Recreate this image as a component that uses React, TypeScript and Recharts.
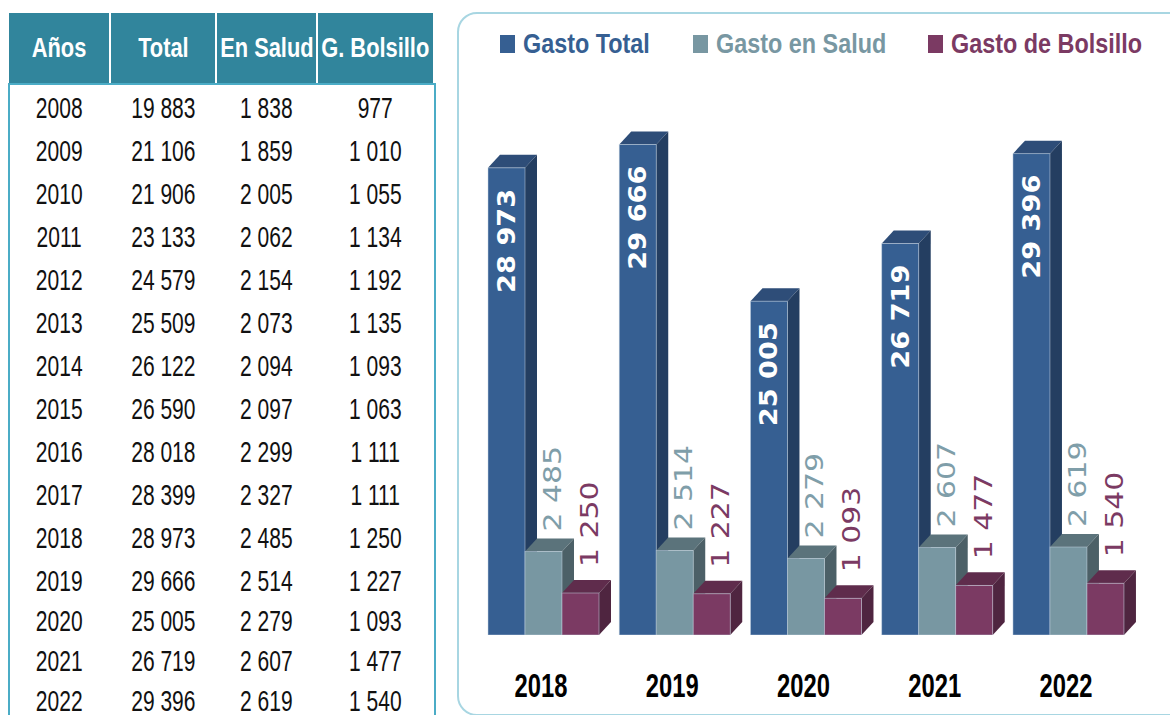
import React from "react";
import { BarChart, Bar, XAxis, YAxis, LabelList } from "recharts";

// Gasto per cápita (table 2008-2022, chart 2018-2022)
const YEARS = [2008, 2009, 2010, 2011, 2012, 2013, 2014, 2015, 2016, 2017, 2018, 2019, 2020, 2021, 2022];
const TOTAL = [19883, 21106, 21906, 23133, 24579, 25509, 26122, 26590, 28018, 28399, 28973, 29666, 25005, 26719, 29396];
const SALUD = [1838, 1859, 2005, 2062, 2154, 2073, 2094, 2097, 2299, 2327, 2485, 2514, 2279, 2607, 2619];
const BOLSILLO = [977, 1010, 1055, 1134, 1192, 1135, 1093, 1063, 1111, 1111, 1250, 1227, 1093, 1477, 1540];
const CHART_YEARS = [2018, 2019, 2020, 2021, 2022];

const HEADERS = ["Años", "Total", "En Salud", "G. Bolsillo"];
const SERIES_NAMES = ["Gasto Total", "Gasto en Salud", "Gasto de Bolsillo"];

// the total bars sit on a cut axis, same px per unit as the other two
const TOTAL_DOMAIN = [15070, 30100];
const PARTS_DOMAIN = [0, 15030];

const COLORS = {
  total: ["#365f92", "#2e4d78", "#243e61"],
  salud: ["#7897a2", "#5b737b", "#4c6067"],
  bolsillo: ["#7b3a63", "#5f2c4c", "#4f2540"],
};
const LABEL_COLORS = { total: "#ffffff", salud: "#7f9ea9", bolsillo: "#7b3a63" };

const DX = 12;
const DY = 13;

const fmt = (v: number) => String(v).replace(/\B(?=(\d{3})+(?!\d))/g, " ");

const chartData = CHART_YEARS.map((yr) => {
  const i = YEARS.indexOf(yr);
  return { year: String(yr), total: TOTAL[i], salud: SALUD[i], bolsillo: BOLSILLO[i] };
});

const COLS = [
  { left: 9, width: 100 },
  { left: 111, width: 104 },
  { left: 217, width: 99 },
  { left: 318, width: 115 },
];
const rowCenter = (i: number) => 108 + 43 * Math.min(i, 11) + 40 * Math.max(0, i - 11);

function Bar3D(props: any) {
  const { x, y, width, height, colors } = props;
  if (!height || height <= 0) return null;
  const [front, top, side] = colors;
  return (
    <g>
      <polygon
        points={`${x},${y} ${x + DX},${y - DY} ${x + width + DX},${y - DY} ${x + width},${y}`}
        fill={top}
      />
      <polygon
        points={`${x + width},${y} ${x + width + DX},${y - DY} ${x + width + DX},${y + height - DY} ${x + width},${y + height}`}
        fill={side}
      />
      <rect x={x} y={y} width={width} height={height} fill={front} stroke="#c8d6e4" strokeWidth={0.8} strokeOpacity={0.6} />
    </g>
  );
}

const makeLabel = (kind: "total" | "salud" | "bolsillo") => (p: any) => {
  const { x, y, width, value } = p;
  const cx = x + width / 2;
  if (kind === "total") {
    return (
      <text
        transform={`translate(${cx},${y + 21}) rotate(-90) scale(1.11,1)`}
        textAnchor="end"
        dominantBaseline="central"
        fill={LABEL_COLORS.total}
        fontFamily="DejaVu Sans"
        fontWeight="bold"
        fontSize={24.5}
      >
        {fmt(Number(value))}
      </text>
    );
  }
  const gap = kind === "salud" ? 20 : 26;
  return (
    <text
      transform={`translate(${cx + 9},${y - gap}) rotate(-90) scale(1.22,1)`}
      textAnchor="start"
      dominantBaseline="central"
      fill={LABEL_COLORS[kind]}
      fontFamily="DejaVu Sans"
      fontSize={24.5}
    >
      {fmt(Number(value))}
    </text>
  );
};

function YearTick({ x, y, payload }: any) {
  return (
    <text
      transform={`translate(${x - 3},${y + 50}) scale(0.71,1)`}
      textAnchor="middle"
      dominantBaseline="central"
      fill="#000"
      fontFamily="Liberation Sans"
      fontWeight="bold"
      fontSize={33.5}
    >
      {payload.value}
    </text>
  );
}

const LEGEND_LEFT = [500, 693, 928];
const LEGEND_COLORS = [COLORS.total[0], COLORS.salud[0], COLORS.bolsillo[0]];

export default function App() {
  return (
    <div
      style={{
        position: "absolute",
        left: 0,
        top: 0,
        width: 1170,
        height: 715,
        overflow: "hidden",
        background: "#fff",
        fontFamily: "Liberation Sans",
      }}
    >
      {/* table */}
      {HEADERS.map((h, i) => (
        <div
          key={h}
          style={{
            position: "absolute",
            left: COLS[i].left,
            top: 13,
            width: COLS[i].width,
            height: 70,
            background: "#31859c",
            display: "flex",
            alignItems: "center",
            justifyContent: "center",
            color: "#fff",
            fontWeight: "bold",
            fontSize: 28,
            whiteSpace: "nowrap",
          }}
        >
          <span style={{ display: "inline-block", transform: "scaleX(0.78)" }}>{h}</span>
        </div>
      ))}
      <div
        style={{
          position: "absolute",
          left: 8,
          top: 83,
          width: 424,
          height: 700,
          border: "2px solid #4bacc6",
        }}
      />
      {YEARS.map((yr, r) =>
        [String(yr), fmt(TOTAL[r]), fmt(SALUD[r]), fmt(BOLSILLO[r])].map((t, c) => (
          <div
            key={`${r}-${c}`}
            style={{
              position: "absolute",
              left: COLS[c].left,
              top: rowCenter(r) - 20,
              width: COLS[c].width,
              height: 40,
              display: "flex",
              alignItems: "center",
              justifyContent: "center",
              color: "#111",
              fontSize: 29,
              whiteSpace: "nowrap",
            }}
          >
            <span style={{ display: "inline-block", transform: "scaleX(0.725)" }}>{t}</span>
          </div>
        ))
      )}

      {/* chart panel */}
      <div
        style={{
          position: "absolute",
          left: 457,
          top: 12,
          width: 760,
          height: 700,
          border: "2px solid #a8d6e2",
          borderRadius: 20,
        }}
      />
      {SERIES_NAMES.map((n, i) => (
        <div
          key={n}
          style={{
            position: "absolute",
            left: LEGEND_LEFT[i],
            top: 24,
            height: 40,
            display: "flex",
            alignItems: "center",
            whiteSpace: "nowrap",
          }}
        >
          <span style={{ width: 15, height: 18, background: LEGEND_COLORS[i], marginRight: 8 }} />
          <span
            style={{
              display: "inline-block",
              transform: "scaleX(0.835)",
              transformOrigin: "left center",
              color: LEGEND_COLORS[i],
              fontWeight: "bold",
              fontSize: 28,
            }}
          >
            {n}
          </span>
        </div>
      ))}

      <div style={{ position: "absolute", left: 0, top: 0 }}>
        <BarChart
          width={1170}
          height={715}
          data={chartData}
          margin={{ top: 130, right: 35.4, bottom: 30, left: 478.4 }}
          barCategoryGap={9.6}
          barGap={0}
        >
          <XAxis
            dataKey="year"
            axisLine={false}
            tickLine={false}
            tickSize={0}
            tickMargin={0}
            height={50}
            tick={<YearTick />}
            interval={0}
          />
          <YAxis yAxisId="total" hide domain={TOTAL_DOMAIN} allowDataOverflow type="number" />
          <YAxis yAxisId="parts" hide domain={PARTS_DOMAIN} allowDataOverflow type="number" />
          <Bar
            yAxisId="total"
            dataKey="total"
            name={SERIES_NAMES[0]}
            isAnimationActive={false}
            shape={(p: any) => <Bar3D {...p} colors={COLORS.total} />}
          >
            <LabelList dataKey="total" content={makeLabel("total")} />
          </Bar>
          <Bar
            yAxisId="parts"
            dataKey="salud"
            name={SERIES_NAMES[1]}
            isAnimationActive={false}
            shape={(p: any) => <Bar3D {...p} colors={COLORS.salud} />}
          >
            <LabelList dataKey="salud" content={makeLabel("salud")} />
          </Bar>
          <Bar
            yAxisId="parts"
            dataKey="bolsillo"
            name={SERIES_NAMES[2]}
            isAnimationActive={false}
            shape={(p: any) => <Bar3D {...p} colors={COLORS.bolsillo} />}
          >
            <LabelList dataKey="bolsillo" content={makeLabel("bolsillo")} />
          </Bar>
        </BarChart>
      </div>
    </div>
  );
}
